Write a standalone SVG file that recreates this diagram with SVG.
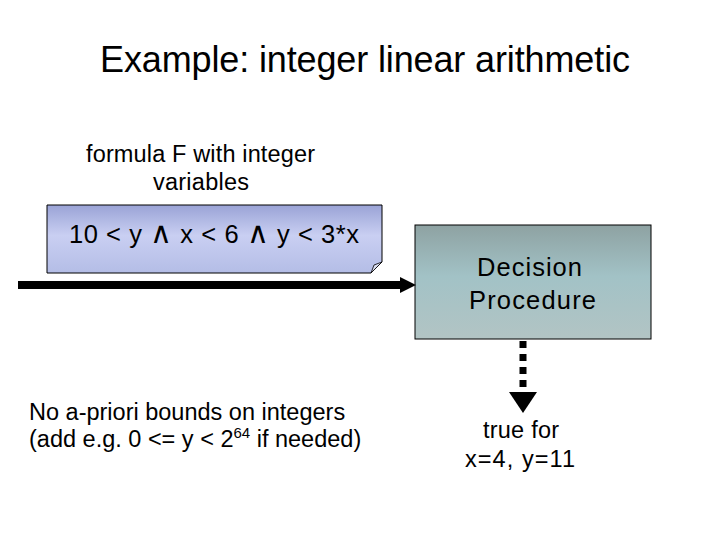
<svg xmlns="http://www.w3.org/2000/svg" width="720" height="540" viewBox="0 0 720 540">
<defs>
<linearGradient id="gf" x1="0" y1="0" x2="0" y2="1">
<stop offset="0" stop-color="#9aa3d6"/>
<stop offset="0.45" stop-color="#c9cff2"/>
<stop offset="1" stop-color="#b4bde6"/>
</linearGradient>
<linearGradient id="gd" x1="0" y1="0" x2="0" y2="1">
<stop offset="0" stop-color="#8ea2a2"/>
<stop offset="0.45" stop-color="#a2c2c6"/>
<stop offset="1" stop-color="#b2c4c4"/>
</linearGradient>
<marker id="ah" viewBox="0 0 10 10" refX="0" refY="5" markerWidth="16" markerHeight="20" markerUnits="userSpaceOnUse" orient="auto">
<path d="M0,0 L10,5 L0,10 Z" fill="#000"/>
</marker>
</defs>
<style>
text{font-family:"Liberation Sans",Arial,sans-serif;fill:#000}
.t{font-size:23.5px}
.big{font-size:25.5px}
.and{font-size:30px}
</style>
<rect width="720" height="540" fill="#fff"/>
<text x="100" y="72" font-size="36" textLength="530" lengthAdjust="spacing">Example: integer linear arithmetic</text>
<g id="formula-label">
<text class="t" x="86" y="162" textLength="229" lengthAdjust="spacing">formula F with integer</text>
<text class="t" x="153" y="190" textLength="96" lengthAdjust="spacing">variables</text>
</g>
<g id="formula">
<path d="M47,205 H382 V262 L371,273 H47 Z" fill="url(#gf)" stroke="#000" stroke-width="1"/>
<path d="M371,273 L374,265 L382,262 Z" fill="#d8dcf0" stroke="#000" stroke-width="0.8"/>
<text class="big" x="69" y="243" textLength="290" lengthAdjust="spacing">10 &lt; y <tspan class="and">∧</tspan> x &lt; 6 <tspan class="and">∧</tspan> y &lt; 3*x</text>
</g>
<g id="decision">
<rect x="415" y="225" width="236" height="114" fill="url(#gd)" stroke="#000" stroke-width="1"/>
<text class="big" x="477" y="276" textLength="105" lengthAdjust="spacing">Decision</text>
<text class="big" x="469" y="309" textLength="127" lengthAdjust="spacing">Procedure</text>
</g>
<g id="note">
<text class="t" x="29" y="420">No a-priori bounds on integers</text>
<text class="t" x="29" y="447">(add e.g. 0 &lt;= y &lt; 2<tspan font-size="15" dy="-9">64</tspan><tspan dy="9"> if needed)</tspan></text>
</g>
<g id="result">
<text class="t" x="483" y="438" textLength="76" lengthAdjust="spacing">true for</text>
<text class="t" x="465" y="467" textLength="110" lengthAdjust="spacing">x=4,  y=11</text>
</g>
<g id="connectors">
<line x1="18" y1="285" x2="400" y2="285" stroke="#000" stroke-width="8" marker-end="url(#ah)"/>
<line x1="523" y1="341" x2="523" y2="393" stroke="#000" stroke-width="7" stroke-dasharray="7,6"/>
<path d="M509,392 L537,392 L523,413 Z" fill="#000"/>
</g>
</svg>
